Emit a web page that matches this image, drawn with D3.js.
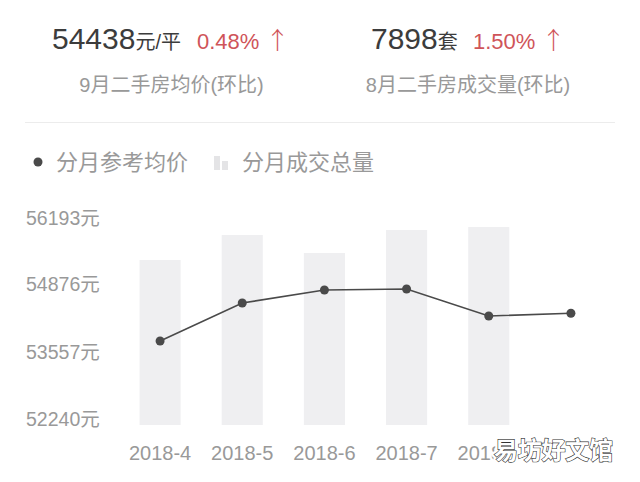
<!DOCTYPE html>
<html><head><meta charset="utf-8">
<script src="https://cdn.jsdelivr.net/npm/d3@7/dist/d3.min.js"></script>
<style>
html,body{margin:0;padding:0;background:#fff;}
text{font-family:"Liberation Sans","Noto Sans CJK SC",sans-serif;}
</style></head>
<body>
<svg id="c" width="640" height="482"></svg>
<script>
const months = ["2018-4","2018-5","2018-6","2018-7","2018-8","2018-9"];
const avgPrice = [53892, 54639, 54895, 54915, 54384, 54438];
const volume = [6582, 7579, 6861, 7778, 7898, null];
const yTicks = [52240, 53557, 54876, 56193];
const legendLabels = ["分月参考均价", "分月成交总量"];

const svg = d3.select("#c");
const gray = "#999";
const dark = "#4a4a4a";
const red = "#cf5459";

// header
function pct(xp, label) {
  const t = svg.append("text").attr("x", xp).attr("y", 49).attr("font-size", 22).attr("fill", red);
  t.append("tspan").text(label + " ");
  t.append("tspan").attr("font-family", "Noto Sans CJK SC").attr("font-size", 24).attr("font-weight", 300).text("↑");
}
const h1 = svg.append("text").attr("x", 52).attr("y", 49).attr("fill", "#3c3c3c");
h1.append("tspan").attr("font-size", 30).text("54438");
h1.append("tspan").attr("font-size", 20).text("元/平");
pct(197, "0.48%");
const h2 = svg.append("text").attr("x", 371).attr("y", 49).attr("fill", "#3c3c3c");
h2.append("tspan").attr("font-size", 30).text("7898");
h2.append("tspan").attr("font-size", 20).text("套");
pct(473, "1.50%");

svg.append("text").attr("x", 171.5).attr("y", 92).attr("text-anchor", "middle").attr("font-size", 20).attr("fill", gray).text("9月二手房均价(环比)");
svg.append("text").attr("x", 468).attr("y", 92).attr("text-anchor", "middle").attr("font-size", 20).attr("fill", gray).text("8月二手房成交量(环比)");

svg.append("line").attr("x1", 25).attr("x2", 615).attr("y1", 122.5).attr("y2", 122.5).attr("stroke", "#ececec").attr("stroke-width", 1);

// legend
svg.append("circle").attr("cx", 38).attr("cy", 162).attr("r", 4.5).attr("fill", dark);
svg.append("text").attr("x", 56).attr("y", 170).attr("font-size", 22).attr("fill", gray).text(legendLabels[0]);
svg.append("rect").attr("x", 214).attr("y", 156).attr("width", 6).attr("height", 14).attr("fill", "#e4e4e6");
svg.append("rect").attr("x", 222).attr("y", 161).attr("width", 6).attr("height", 9).attr("fill", "#e4e4e6");
svg.append("text").attr("x", 242).attr("y", 170).attr("font-size", 22).attr("fill", gray).text(legendLabels[1]);

// scales
const x = d3.scaleBand().domain(months).range([119, 612]).paddingInner(0.5).paddingOuter(0.25);
const y = d3.scaleLinear().domain([yTicks[0], yTicks[yTicks.length - 1]]).range([425, 224]);
const yv = d3.scaleLinear().domain([0, 8018]).range([425, 224]);

// y axis labels (baseline on grid)
const yAxis = d3.axisLeft(y).tickValues(yTicks).tickSize(0).tickFormat(d => d + "元");
const ya = svg.append("g").attr("transform", "translate(26,0)").call(yAxis);
ya.select(".domain").remove();
ya.selectAll("text").attr("text-anchor", "start").attr("x", 0).attr("dy", 0)
  .attr("font-size", 19.5).attr("fill", gray).attr("font-family", null);

// bars
svg.append("g").selectAll("rect").data(months.map((m, i) => ({m, v: volume[i]})).filter(d => d.v != null))
  .join("rect")
  .attr("x", d => x(d.m)).attr("width", x.bandwidth())
  .attr("y", d => yv(d.v)).attr("height", d => yv(0) - yv(d.v))
  .attr("fill", "#efeff1");

// x axis labels (last one is hidden under the watermark in the reference)
const xAxis = d3.axisBottom(x).tickSize(0).tickValues(months.slice(0, 5));
const xa = svg.append("g").attr("transform", "translate(0,425)").call(xAxis);
xa.select(".domain").remove();
xa.selectAll("text").attr("dy", 0).attr("y", 35).attr("font-size", 20).attr("fill", gray).attr("font-family", null);

// line
const pts = months.map((m, i) => [x(m) + x.bandwidth() / 2, y(avgPrice[i])]);
svg.append("path").attr("d", d3.line()(pts)).attr("fill", "none").attr("stroke", dark).attr("stroke-width", 1.6);
svg.append("g").selectAll("circle").data(pts).join("circle")
  .attr("cx", d => d[0]).attr("cy", d => d[1]).attr("r", 4.5).attr("fill", dark);

// watermark
svg.append("text").attr("x", 494).attr("y", 459).attr("font-size", 24).attr("textLength", 119)
  .attr("font-family", "Noto Sans CJK SC").attr("font-weight", "bold")
  .attr("fill", "#fff").attr("stroke", "#fff").attr("stroke-width", 6).attr("stroke-linejoin", "round")
  .text("易坊好文馆");
svg.append("text").attr("x", 494).attr("y", 459).attr("font-size", 24).attr("textLength", 119)
  .attr("font-family", "Noto Sans CJK SC").attr("font-weight", "bold")
  .attr("fill", "#fff").attr("stroke", "#333").attr("stroke-width", 1.2).attr("paint-order", "stroke")
  .text("易坊好文馆");
</script>
</body></html>
